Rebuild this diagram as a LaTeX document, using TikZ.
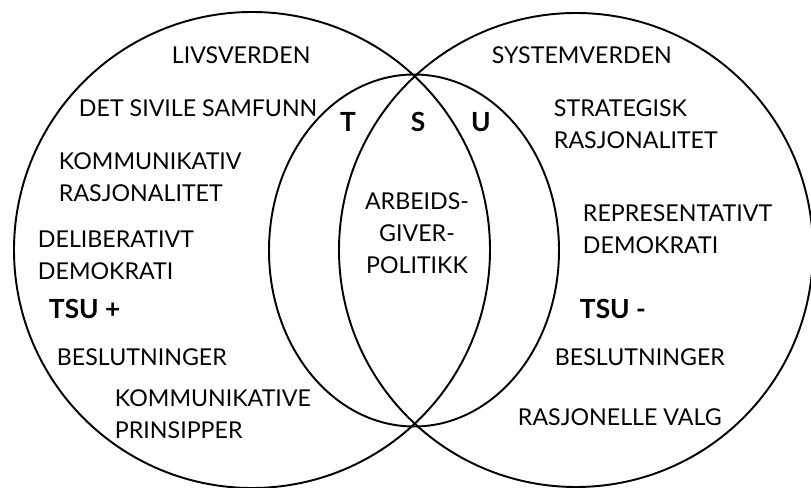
\documentclass[tikz,border=0pt]{standalone}
\usepackage{fontspec}
\setmainfont{Lato}
\usepackage{tikz}
\usetikzlibrary{positioning}

\begin{document}
\begin{tikzpicture}[line width=1.1pt,
    every node/.style={inner sep=0pt, font=\fontsize{13.2}{18.2}\selectfont},
    lbl/.style={anchor=west, align=left},
    tsu/.style={font=\fontsize{15}{18.2}\selectfont\bfseries}]
      \useasboundingbox (0,0) rectangle (16.22,9.76);
      % Two large circles (lifeworld left, system right)
      \draw (5.04,4.76) circle (4.76);
      \draw (11.52,4.76) circle (4.74);
      % Inner ellipse through both crossing points
      \draw (8.28,4.75) ellipse [x radius=2.9, y radius=3.52];
      % Left side labels
      \node[lbl] (livs) at (3.42,8.66) {LIVSVERDEN};
      \node[lbl] (sivile) at (1.56,7.60) {DET SIVILE SAMFUNN};
      \node[lbl] (komrasj) at (1.16,6.21) {KOMMUNIKATIV\\RASJONALITET};
      \node[lbl] (delib) at (0.74,4.65) {DELIBERATIVT\\DEMOKRATI};
      \node[lbl, tsu] (tsupluss) at (0.96,3.58) {TSU +};
      \node[lbl] (beslL) at (1.12,2.62) {BESLUTNINGER};
      \node[lbl] (komprins) at (2.28,1.48) {KOMMUNIKATIVE\\PRINSIPPER};
      % Middle: T S U and the overlap
      \node[tsu] (t) at (6.96,7.32) {T};
      \node[tsu] (s) at (8.36,7.32) {S};
      \node[tsu] (u) at (9.62,7.32) {U};
      \node[align=center] (arbeid) at (8.34,5.09) {ARBEIDS-\\GIVER-\\POLITIKK};
      % Right side labels
      \node[lbl] (system) at (9.82,8.66) {SYSTEMVERDEN};
      \node[lbl] (strat) at (11.06,7.28) {STRATEGISK\\RASJONALITET};
      \node[lbl] (repr) at (11.64,5.18) {REPRESENTATIVT\\DEMOKRATI};
      \node[lbl, tsu] (tsuminus) at (11.58,3.58) {TSU -};
      \node[lbl] (beslR) at (11.08,2.62) {BESLUTNINGER};
      \node[lbl] (rasjvalg) at (10.34,1.42) {RASJONELLE VALG};
    \end{tikzpicture}
\end{document}
